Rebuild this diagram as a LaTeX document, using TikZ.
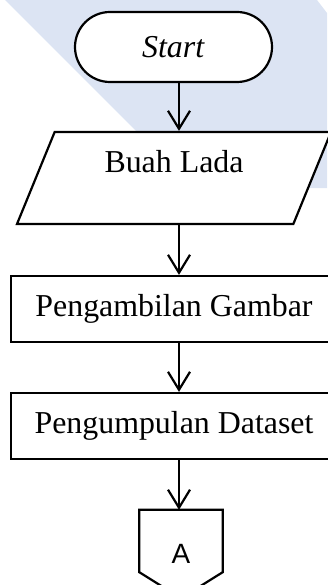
\documentclass[tikz,border=0pt]{standalone}
\usepackage{fontspec}
\setmainfont{Liberation Serif}
\newfontfamily\connfont{Liberation Sans}
\usetikzlibrary{arrows.meta,shapes.geometric}

\definecolor{wmblue}{RGB}{220,228,243}

\tikzset{
  flowline/.style={line width=2.2bp},
  arr/.style={flowline,-{Straight Barb[length=18bp,width=22bp]}},
  terminal/.style={draw,flowline,fill=white,rounded corners=35bp,
    minimum width=197bp,minimum height=70bp,inner sep=0pt},
  iobox/.style={draw,flowline,fill=white,trapezium,trapezium left angle=55.6,
    trapezium right angle=124.4,trapezium stretches body,
    minimum width=314bp,minimum height=92bp,inner sep=0pt},
  process/.style={draw,flowline,fill=white,minimum width=326bp,
    minimum height=66bp,inner sep=0pt},
}

\begin{document}
\begin{tikzpicture}[x=1bp,y=-1bp,font=\fontsize{32pt}{38pt}\selectfont]
\useasboundingbox (0,0) rectangle (327,585);
% faint band behind the top of the chart
\fill[wmblue] (5,0) -- (317,0) -- (327,13) -- (327,188) -- (193,188) -- cycle;

\coordinate (spine) at (179,0);
\node[terminal] (start) at (173.5,47) {\textit{Start}};
\node[iobox,text height=22bp,text depth=33bp] (input) at (174,178) {Buah Lada};
\node[process] (capture) at (174,309) {Pengambilan Gambar};
\node[process] (collect) at (174,426) {Pengumpulan Dataset};
% off-page connector
\node[minimum width=83bp,minimum height=88bp,inner sep=0pt] (conA) at (181,554)
  {\connfont\fontsize{28pt}{32pt}\selectfont A};
\draw[flowline] (conA.north west) -- (conA.north east) -- ([yshift=26bp]conA.south east)
  -- (conA.south) -- ([yshift=26bp]conA.south west) -- cycle;

\draw[arr] (start.south -| spine) -- (input.north -| spine);
\draw[arr] (input.south -| spine) -- (capture.north -| spine);
\draw[arr] (capture.south -| spine) -- (collect.north -| spine);
\draw[arr] (collect.south -| spine) -- (conA.north -| spine);
\end{tikzpicture}
\end{document}
